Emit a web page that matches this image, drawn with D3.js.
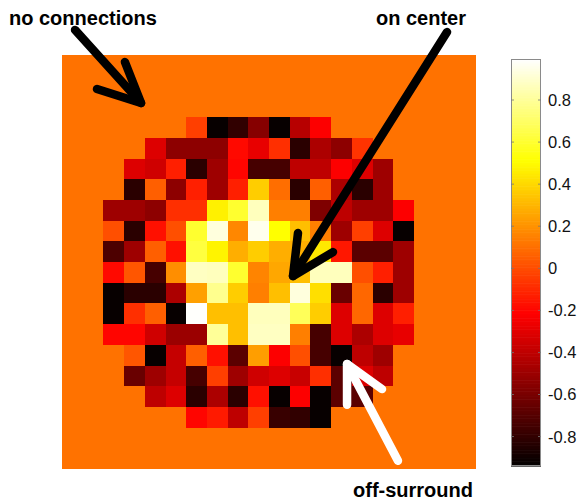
<!DOCTYPE html>
<html><head><meta charset="utf-8">
<script src="https://cdn.jsdelivr.net/npm/d3@7/dist/d3.min.js"></script>
<style>html,body{margin:0;padding:0;background:#fff;}svg{display:block;}</style>
</head><body>
<svg id="chart" width="581" height="500"></svg>
<script>
// ---- data ----
const gridSize = 20;
const noConnectionValue = 0.11;
const rowIndex = [3,4,5,6,7,8,9,10,11,12,13,14,15,16,17];
const rowColStart = [6,4,3,3,2,2,2,2,2,2,2,3,3,4,6];
const rowValues = [
  [-0.035,-0.92,-0.8,-0.56,-0.92,-0.42,-0.22],
  [-0.31,-0.54,-0.54,-0.54,-0.19,-0.28,-0.08,-0.82,-0.45,-0.54,-0.07],
  [-0.31,-0.35,-0.125,-0.82,-0.49,-0.2,-0.74,-0.74,-0.4,-0.4,-0.22,-0.31,-0.49],
  [-0.82,0.056,-0.54,-0.125,-0.49,-0.125,0.37,0.1,-0.82,0.056,-0.45,-0.82,-0.49],
  [-0.49,-0.49,-0.54,-0.08,-0.08,0.47,0.6,0.87,0.146,0.146,-0.58,-0.4,-0.49,-0.49,-0.22],
  [0.01,-0.82,-0.17,0.01,0.6,0.93,0.17,0.96,0.51,0.33,0.146,-0.49,-0.035,-0.31,-0.92],
  [-0.72,-0.49,0.056,-0.17,0.63,0.48,0.28,0.37,0.28,0.28,0.45,-0.15,-0.68,-0.68,-0.49],
  [-0.19,0.03,-0.74,0.19,0.88,0.87,0.6,0.16,0.26,0.33,0.87,0.87,0.01,-0.125,-0.49],
  [-0.92,-0.82,-0.82,-0.45,0.24,0.78,0.37,0.146,0.33,0.93,0.42,-0.64,0.08,-0.82,-0.49],
  [-0.92,-0.08,0.056,-0.92,0.99,0.33,0.33,0.87,0.87,0.68,0.37,-0.31,0.08,-0.31,-0.125],
  [-0.2,-0.2,-0.35,-0.5,-0.5,0.8,0.33,0.88,0.88,0.146,-0.74,-0.31,-0.45,-0.31,-0.28],
  [0.03,-0.92,-0.38,0.056,-0.17,-0.68,0.236,-0.22,0.01,-0.74,-0.92,-0.4,-0.49],
  [-0.64,-0.49,-0.38,-0.74,-0.035,-0.49,-0.35,-0.31,-0.37,-0.08,-0.68,-0.31,-0.4],
  [-0.4,-0.31,-0.82,-0.45,-0.82,-0.17,-0.92,-0.22,-0.92,-0.68,-0.68],
  [-0.2,-0.14,-0.4,-0.035,-0.78,-0.8,-0.92]
];
const colorDomain = [-0.94, 0.995];
const colorbarTicks = [-0.8,-0.6,-0.4,-0.2,0,0.2,0.4,0.6,0.8];
const annotationLabels = ["no connections", "on center", "off-surround"];

// ---- helpers ----
function hot(t){
  t = Math.max(0, Math.min(1, t));
  const r = Math.min(1, t/0.375);
  const g = Math.max(0, Math.min(1, (t-0.375)/0.375));
  const b = Math.max(0, Math.min(1, (t-0.75)/0.25));
  return d3.rgb(r*255, g*255, b*255).toString();
}
const color = d3.scaleSequential(hot).domain(colorDomain);

const svg = d3.select("#chart");
const x = d3.scaleLinear().domain([0, gridSize]).range([62, 476]);
const y = d3.scaleLinear().domain([0, gridSize]).range([55, 469]);

// build full matrix
const matrix = d3.range(gridSize).map(() => d3.range(gridSize).map(() => noConnectionValue));
rowIndex.forEach((r, i) => {
  rowValues[i].forEach((v, j) => { matrix[r][rowColStart[i] + j] = v; });
});
const cells = [];
matrix.forEach((row, r) => row.forEach((v, c) => cells.push({r, c, v})));

svg.append("g").selectAll("rect").data(cells).join("rect")
  .attr("x", d => x(d.c))
  .attr("y", d => y(d.r))
  .attr("width", d => x(d.c + 1) - x(d.c) + 0.4)
  .attr("height", d => y(d.r + 1) - y(d.r) + 0.4)
  .attr("fill", d => color(d.v))
  .attr("shape-rendering", "crispEdges");

// ---- colorbar ----
const cbX = 511, cbW = 30;
const cy = d3.scaleLinear().domain(colorDomain).range([466, 59]);
const steps = 256;
const stepVals = d3.range(steps).map(i => colorDomain[0] + (colorDomain[1]-colorDomain[0]) * i / steps);
const dv = (colorDomain[1]-colorDomain[0]) / steps;
const cb = svg.append("g");
cb.selectAll("rect").data(stepVals).join("rect")
  .attr("x", cbX).attr("width", cbW)
  .attr("y", d => cy(d + dv))
  .attr("height", d => cy(d) - cy(d + dv) + 0.6)
  .attr("fill", d => color(d + dv/2));
cb.append("rect").attr("x", cbX + 0.5).attr("y", cy(colorDomain[1]) + 0.5)
  .attr("width", cbW - 1).attr("height", cy(colorDomain[0]) - cy(colorDomain[1]) - 1)
  .attr("fill", "none").attr("stroke", "#8a8a8a").attr("stroke-width", 1);
const tickG = cb.selectAll("g.tick").data(colorbarTicks).join("g").attr("class","tick");
tickG.append("line").attr("x1", cbX).attr("x2", cbX + 3)
  .attr("y1", d => cy(d)).attr("y2", d => cy(d)).attr("stroke", "#777").attr("stroke-width", 0.8);
tickG.append("line").attr("x1", cbX + cbW - 3).attr("x2", cbX + cbW)
  .attr("y1", d => cy(d)).attr("y2", d => cy(d)).attr("stroke", "#777").attr("stroke-width", 0.8);
tickG.append("text").attr("x", cbX + cbW + 7).attr("y", d => cy(d) + 6)
  .attr("font-family", "Liberation Sans, Arial, sans-serif").attr("font-size", 16.5)
  .attr("fill", "#111")
  .text(d => d3.format("")(Math.round(d*10)/10).replace("\u2212","-"));

// ---- annotations (in grid units) ----
const arrows = [
  {stroke: "#000", shaft: [[0.63,-1.21],[3.82,2.32]], arms: [[3.04,0.34],[1.69,1.64]]},
  {stroke: "#000", shaft: [[18.6,-1.11],[11.16,10.68]], arms: [[11.4,8.6],[13.09,9.52]]},
  {stroke: "#fff", shaft: [[16.23,19.6],[13.77,14.93]], arms: [[13.77,16.9],[15.46,16.14]]}
];
const line = d3.line().x(d => x(d[0])).y(d => y(d[1]));
const ag = svg.append("g");
arrows.forEach(a => {
  ag.append("path").attr("d", line(a.shaft)).attr("stroke", a.stroke).attr("stroke-width", 8.5)
    .attr("stroke-linecap", "round").attr("fill", "none");
  ag.append("path").attr("d", line([a.arms[0], a.shaft[1], a.arms[1]])).attr("stroke", a.stroke)
    .attr("stroke-width", 8.5).attr("stroke-linecap", "round").attr("stroke-linejoin", "round").attr("fill", "none");
});

const labelPos = [[9, 25, "start"], [466, 25, "end"], [353, 497, "start"]];
svg.append("g").selectAll("text").data(annotationLabels).join("text")
  .attr("x", (d,i) => labelPos[i][0]).attr("y", (d,i) => labelPos[i][1])
  .attr("text-anchor", (d,i) => labelPos[i][2])
  .attr("font-family", "Liberation Sans, Arial, sans-serif").attr("font-weight", "bold")
  .attr("font-size", 20).attr("fill", "#000")
  .text(d => d);
</script>
</body></html>
